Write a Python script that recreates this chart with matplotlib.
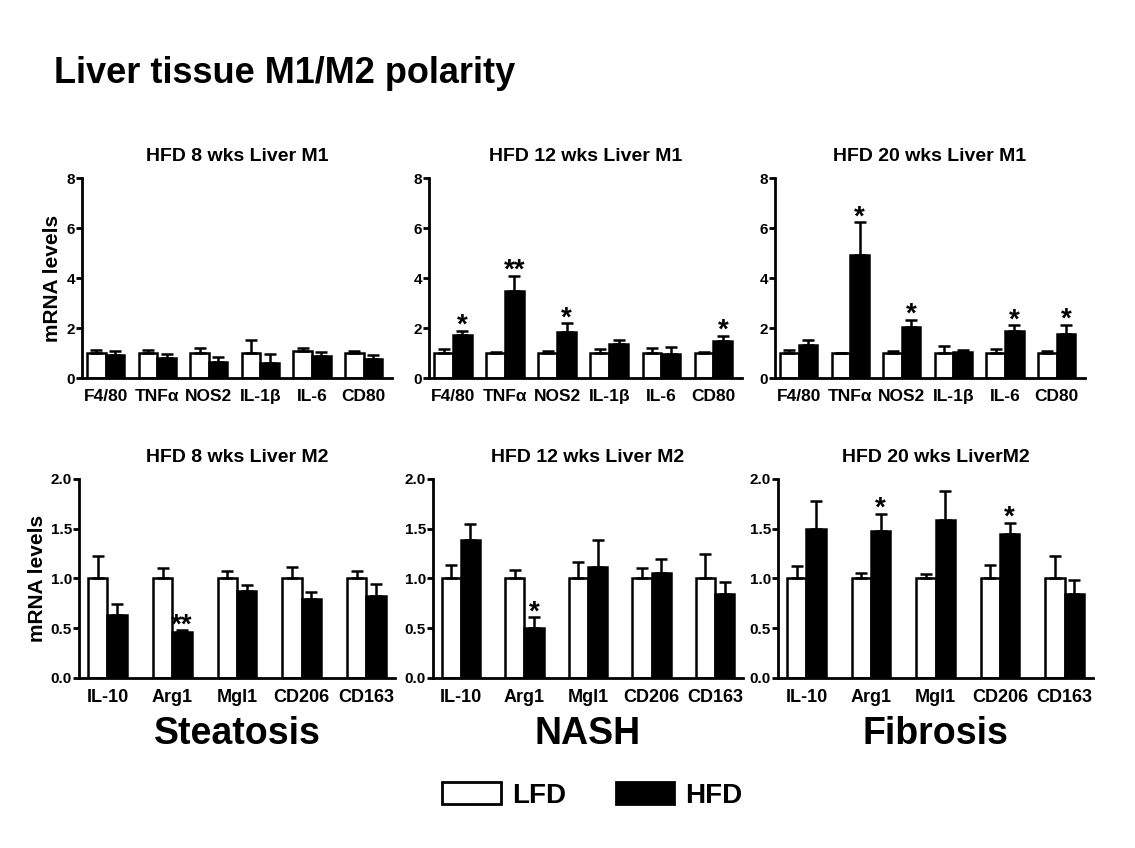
import numpy as np
import matplotlib
matplotlib.use('Agg')
import matplotlib.pyplot as plt
from matplotlib import font_manager
from matplotlib.patches import Patch

plt.rcParams['font.family'] = ['Liberation Sans', 'DejaVu Sans']
plt.rcParams['font.weight'] = 'bold'

fams = {f.name for f in font_manager.fontManager.ttflist}
narrow = 'Liberation Sans Narrow' if 'Liberation Sans Narrow' in fams else 'Liberation Sans'

# genes
m1_genes = ['F4/80', 'TNFα', 'NOS2', 'IL-1β', 'IL-6', 'CD80']
m2_genes = ['IL-10', 'Arg1', 'Mgl1', 'CD206', 'CD163']

# HFD 8 wks Liver M1
lfd_8_m1 = [1.0, 1.0, 1.0, 1.0, 1.08, 1.0]
lfd_8_m1_err = [0.13, 0.13, 0.2, 0.53, 0.12, 0.1]
hfd_8_m1 = [0.93, 0.8, 0.63, 0.6, 0.87, 0.77]
hfd_8_m1_err = [0.17, 0.16, 0.21, 0.36, 0.16, 0.16]
sig_8_m1 = ['', '', '', '', '', '']

# HFD 12 wks Liver M1
lfd_12_m1 = [1.0, 1.0, 1.0, 1.0, 1.0, 1.0]
lfd_12_m1_err = [0.16, 0.05, 0.07, 0.15, 0.2, 0.05]
hfd_12_m1 = [1.73, 3.47, 1.85, 1.35, 0.98, 1.5]
hfd_12_m1_err = [0.16, 0.62, 0.35, 0.18, 0.26, 0.19]
sig_12_m1 = ['*', '**', '*', '', '', '*']

# HFD 20 wks Liver M1
lfd_20_m1 = [1.0, 1.0, 1.0, 1.0, 1.0, 1.0]
lfd_20_m1_err = [0.12, 0.02, 0.1, 0.27, 0.15, 0.08]
hfd_20_m1 = [1.33, 4.93, 2.05, 1.03, 1.88, 1.77]
hfd_20_m1_err = [0.2, 1.3, 0.28, 0.1, 0.24, 0.36]
sig_20_m1 = ['', '*', '*', '', '*', '*']

# HFD 8 wks Liver M2
lfd_8_m2 = [1.0, 1.0, 1.0, 1.0, 1.0]
lfd_8_m2_err = [0.23, 0.11, 0.07, 0.115, 0.07]
hfd_8_m2 = [0.63, 0.46, 0.87, 0.79, 0.82]
hfd_8_m2_err = [0.11, 0.02, 0.06, 0.07, 0.12]
sig_8_m2 = ['', '**', '', '', '']

# HFD 12 wks Liver M2
lfd_12_m2 = [1.0, 1.0, 1.0, 1.0, 1.0]
lfd_12_m2_err = [0.14, 0.09, 0.17, 0.11, 0.25]
hfd_12_m2 = [1.39, 0.5, 1.115, 1.055, 0.844]
hfd_12_m2_err = [0.16, 0.11, 0.275, 0.145, 0.12]
sig_12_m2 = ['', '*', '', '', '']

# HFD 20 wks Liver M2
lfd_20_m2 = [1.0, 1.0, 1.0, 1.0, 1.0]
lfd_20_m2_err = [0.13, 0.05, 0.04, 0.14, 0.23]
hfd_20_m2 = [1.5, 1.48, 1.59, 1.45, 0.84]
hfd_20_m2_err = [0.28, 0.17, 0.29, 0.11, 0.14]
sig_20_m2 = ['', '*', '', '*', '']

stages = ['Steatosis', 'NASH', 'Fibrosis']

fig = plt.figure(figsize=(11.35, 8.48), dpi=100)
fig.text(0.048, 0.902, 'Liver tissue M1/M2 polarity', fontsize=26, fontweight='bold', va='baseline')

top_pos = [[0.0722, 0.5542, 0.2731, 0.2358],
           [0.378, 0.5542, 0.2758, 0.2358],
           [0.6828, 0.5542, 0.2731, 0.2358]]
bot_pos = [[0.0696, 0.2005, 0.2784, 0.2347],
           [0.3815, 0.2005, 0.2731, 0.2347],
           [0.6855, 0.2005, 0.2775, 0.2347]]

panels = [
    (top_pos[0], 'HFD 8 wks Liver M1', m1_genes, lfd_8_m1, lfd_8_m1_err, hfd_8_m1, hfd_8_m1_err, sig_8_m1),
    (top_pos[1], 'HFD 12 wks Liver M1', m1_genes, lfd_12_m1, lfd_12_m1_err, hfd_12_m1, hfd_12_m1_err, sig_12_m1),
    (top_pos[2], 'HFD 20 wks Liver M1', m1_genes, lfd_20_m1, lfd_20_m1_err, hfd_20_m1, hfd_20_m1_err, sig_20_m1),
    (bot_pos[0], 'HFD 8 wks Liver M2', m2_genes, lfd_8_m2, lfd_8_m2_err, hfd_8_m2, hfd_8_m2_err, sig_8_m2),
    (bot_pos[1], 'HFD 12 wks Liver M2', m2_genes, lfd_12_m2, lfd_12_m2_err, hfd_12_m2, hfd_12_m2_err, sig_12_m2),
    (bot_pos[2], 'HFD 20 wks LiverM2', m2_genes, lfd_20_m2, lfd_20_m2_err, hfd_20_m2, hfd_20_m2_err, sig_20_m2),
]

for k, (pos, title, genes, lv, le, hv, he, sig) in enumerate(panels):
    ax = fig.add_axes(pos)
    top = k < 3
    x = np.arange(len(genes))
    w = 0.36 if top else 0.3
    zeros = np.zeros(len(genes))
    ax.bar(x, lv, w, align='edge', color='white', edgecolor='black', linewidth=1.8, zorder=2)
    ax.bar(x + w, hv, w, align='edge', color='black', edgecolor='black', linewidth=1.8, zorder=2)
    ax.errorbar(x + w / 2, lv, yerr=[zeros, le], fmt='none', ecolor='black',
                elinewidth=1.8, capsize=4, capthick=1.8, zorder=3)
    ax.errorbar(x + 1.5 * w, hv, yerr=[zeros, he], fmt='none', ecolor='black',
                elinewidth=1.8, capsize=4, capthick=1.8, zorder=3)
    for i, s in enumerate(sig):
        if s:
            ax.annotate(s, (x[i] + 1.5 * w, hv[i] + he[i]), xytext=(0, -1.5),
                        textcoords='offset points', ha='center', va='baseline',
                        fontsize=20, fontweight='bold')
    if top:
        ax.set_ylim(0, 8)
        ax.set_yticks([0, 2, 4, 6, 8])
        ax.set_yticklabels(['0', '2', '4', '6', '8'])
        ax.set_xlim(-0.1, len(genes) - 0.09)
        ax.tick_params(axis='y', labelsize=11)
        ax.tick_params(axis='x', labelsize=12.5, pad=8)
    else:
        ax.set_ylim(0, 2)
        ax.set_yticks([0, 0.5, 1.0, 1.5, 2.0])
        ax.set_yticklabels(['0.0', '0.5', '1.0', '1.5', '2.0'])
        ax.set_xlim(-0.14, len(genes) - 0.26)
        ax.tick_params(axis='y', labelsize=11)
        ax.tick_params(axis='x', labelsize=13, pad=8)
    ax.set_xticks(x + w)
    ax.set_xticklabels(genes)
    ax.tick_params(axis='x', length=0)
    ax.tick_params(axis='y', direction='out', length=4, width=2, pad=1)
    for lab in ax.get_xticklabels() + ax.get_yticklabels():
        lab.set_fontweight('bold')
    ax.spines['top'].set_visible(False)
    ax.spines['right'].set_visible(False)
    ax.spines['left'].set_linewidth(2)
    ax.spines['bottom'].set_linewidth(2)
    ax.set_title(title, fontsize=14, fontweight='bold', pad=12)
    if k in (0, 3):
        ax.set_ylabel('mRNA levels', fontsize=15, fontweight='bold', labelpad=3)

for i, st in enumerate(stages):
    cx = bot_pos[i][0] + bot_pos[i][2] / 2
    fig.text(cx, 0.135, st, ha='center', va='center', fontsize=27,
             fontweight='bold', family=[narrow, 'Liberation Sans'])

handles = [Patch(facecolor='white', edgecolor='black', linewidth=2, label='LFD'),
           Patch(facecolor='black', edgecolor='black', linewidth=2, label='HFD')]
fig.legend(handles=handles, loc='center', bbox_to_anchor=(0.522, 0.062), ncol=2,
           frameon=False, handlelength=2.1, handleheight=0.8, columnspacing=1.8,
           handletextpad=0.4, prop={'family': [narrow, 'Liberation Sans'], 'weight': 'bold', 'size': 20})

fig.savefig('out.png', dpi=100)
